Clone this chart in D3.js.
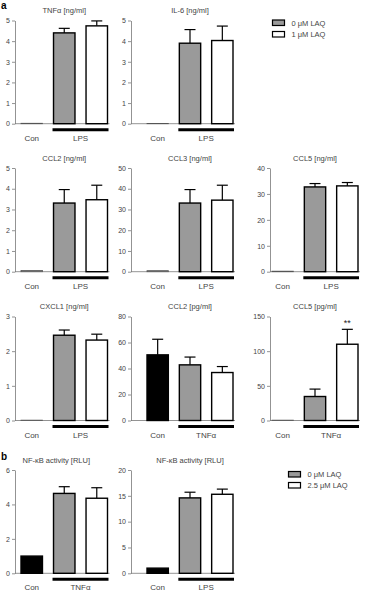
<!DOCTYPE html>
<html>
<head>
<meta charset="utf-8">
<script src="https://cdn.jsdelivr.net/npm/d3@7"></script>
<style>
  body { margin: 0; background: #fff; }
  svg { display: block; font-family: "Liberation Sans", Arial, sans-serif; }
</style>
</head>
<body>
<svg id="chart" width="366" height="592"></svg>
<script>
// bar groups in each panel
const groups = ["Con", "LAQ0", "LAQ1"]

// panel titles, in reading order
const titles = [
  "TNFα [ng/ml]", "IL-6 [ng/ml]",
  "CCL2 [ng/ml]", "CCL3 [ng/ml]", "CCL5 [ng/ml]",
  "CXCL1 [ng/ml]", "CCL2 [pg/ml]", "CCL5 [pg/ml]",
  "NF-κB activity [RLU]", "NF-κB activity [RLU]"
]

// stimulus shown under the two treated bars
const stimuli = ["LPS", "LPS", "LPS", "LPS", "LPS", "LPS", "TNFα", "TNFα", "TNFα", "LPS"]

// mean values: Con, 0 µM LAQ, 1 (or 2.5) µM LAQ
const means = [
  [0.02, 4.40, 4.74],
  [0.01, 3.90, 4.03],
  [0.06, 3.31, 3.47],
  [0.5, 33.1, 34.5],
  [0.2, 32.7, 33.1],
  [0.01, 2.46, 2.32],
  [50.5, 42.8, 36.9],
  [0.5, 34.6, 110],
  [1.0, 4.64, 4.36],
  [1.0, 14.6, 15.3]
]

// upper error (SEM)
const errors = [
  [0, 0.22, 0.24],
  [0, 0.66, 0.70],
  [0, 0.65, 0.70],
  [0, 6.5, 7.2],
  [0, 1.3, 1.3],
  [0, 0.15, 0.17],
  [12.0, 6.0, 4.6],
  [0, 10.7, 21.5],
  [0, 0.39, 0.61],
  [0, 1.1, 1.0]
]

// y axis tick labels
const ticks = [
  [0, 1, 2, 3, 4, 5],
  [0, 1, 2, 3, 4, 5],
  [0, 1, 2, 3, 4, 5],
  [0, 10, 20, 30, 40, 50],
  [0, 10, 20, 30, 40],
  [0, 1, 2, 3],
  [0, 20, 40, 60, 80],
  [0, 50, 100, 150],
  [0, 2, 4, 6],
  [0, 5, 10, 15, 20]
]

// which Con bars are black
const conBlack = [false, false, false, false, false, false, true, false, true, true]

const legendTop = ["0 μM LAQ", "1 μM LAQ"]
const legendBottom = ["0 μM LAQ", "2.5 μM LAQ"]

// layout
const rows = [
  { top: 20.5, zero: 123.7 },
  { top: 168, zero: 271.7 },
  { top: 316.5, zero: 420.5 },
  { top: 470, zero: 573.3 }
]
const cols = [
  { axis: 15, band: [21, 107.5] },
  { axis: 131, band: [147, 233] },
  { axis: 270, band: [272, 358] }
]
const cells = [[0, 0], [0, 1], [1, 0], [1, 1], [1, 2], [2, 0], [2, 1], [2, 2], [3, 0], [3, 1]]

const grayFill = "#9a9a9a"
const textCol = "#444"
const axisCol = "#777"

const svg = d3.select("#chart")

cells.forEach(([r, c], i) => {
  const row = rows[r]
  const col = cols[c]
  const g = svg.append("g")

  const x = d3.scaleBand()
              .domain(groups)
              .range(col.band)
              .paddingInner(0.34)
              .paddingOuter(0)

  const ymax = ticks[i][ticks[i].length - 1]
  const y = d3.scaleLinear()
              .domain([0, ymax])
              .range([row.zero, row.top])

  // y axis
  const yAxis = g.append("g")
                 .attr("transform", `translate(${col.axis},0)`)
                 .call(d3.axisLeft(y)
                         .tickValues(ticks[i])
                         .tickFormat(d3.format("d"))
                         .tickSize(3)
                         .tickSizeOuter(0)
                         .tickPadding(2))
  yAxis.select(".domain").attr("stroke", axisCol).attr("stroke-width", 0.8)
  yAxis.selectAll(".tick line").attr("stroke", axisCol).attr("stroke-width", 0.8)
  yAxis.selectAll(".tick text")
       .attr("fill", textCol)
       .attr("font-size", "7px")
       .attr("font-family", "Liberation Sans, Arial, sans-serif")

  // baseline
  g.append("line")
   .attr("x1", col.axis)
   .attr("x2", col.band[1] + 2)
   .attr("y1", row.zero)
   .attr("y2", row.zero)
   .attr("stroke", axisCol)
   .attr("stroke-width", 0.8)

  // error bars (upward only)
  groups.forEach((k, j) => {
    if (errors[i][j] <= 0) return
    const cx = x(k) + x.bandwidth() / 2
    const yt = y(means[i][j] + errors[i][j])
    g.append("line")
     .attr("x1", cx).attr("x2", cx)
     .attr("y1", y(means[i][j])).attr("y2", yt)
     .attr("stroke", "#000").attr("stroke-width", 1.2)
    g.append("line")
     .attr("x1", cx - 5.5).attr("x2", cx + 5.5)
     .attr("y1", yt).attr("y2", yt)
     .attr("stroke", "#000").attr("stroke-width", 1.2)
  })

  // bars
  g.selectAll(".bar")
   .data(groups.map((k, j) => ({ k, j, v: means[i][j] })))
   .enter()
   .append("rect")
   .attr("class", "bar")
   .attr("x", d => x(d.k))
   .attr("width", x.bandwidth())
   .attr("y", d => y(d.v))
   .attr("height", d => row.zero - y(d.v))
   .attr("fill", d => d.j === 0 ? (conBlack[i] ? "#000" : grayFill) : d.j === 1 ? grayFill : "#fff")
   .attr("stroke", d => d.j === 0 && !conBlack[i] ? "#555" : "#000")
   .attr("stroke-width", d => d.j === 0 && !conBlack[i] ? 0.8 : 1.4)

  // stimulus bar and labels
  g.append("line")
   .attr("x1", x("LAQ0") - 1)
   .attr("x2", x("LAQ1") + x.bandwidth() + 1)
   .attr("y1", row.zero + 6)
   .attr("y2", row.zero + 6)
   .attr("stroke", "#000")
   .attr("stroke-width", 3)

  g.append("text")
   .text("Con")
   .attr("x", x("Con") + x.bandwidth() / 2)
   .attr("y", row.zero + 17)
   .attr("text-anchor", "middle")
   .attr("font-size", "8px")
   .attr("fill", textCol)

  g.append("text")
   .text(stimuli[i])
   .attr("x", (x("LAQ0") + x("LAQ1") + x.bandwidth()) / 2)
   .attr("y", row.zero + 17)
   .attr("text-anchor", "middle")
   .attr("font-size", "8px")
   .attr("fill", textCol)

  // title
  g.append("text")
   .text(titles[i])
   .attr("x", (col.band[0] + col.band[1]) / 2 + (r === 3 && c === 0 ? -8 : 0))
   .attr("y", row.top - 7.5)
   .attr("text-anchor", "middle")
   .attr("font-size", "7.5px")
   .attr("fill", textCol)

  // significance mark
  if (i === 7) {
    g.append("text")
     .text("**")
     .attr("x", x("LAQ1") + x.bandwidth() / 2)
     .attr("y", y(means[i][2] + errors[i][2]) - 3)
     .attr("text-anchor", "middle")
     .attr("font-size", "9px")
     .attr("fill", "#222")
  }
})

// panel letters
svg.append("text").text("a").attr("x", 1).attr("y", 9)
   .attr("font-size", "10px").attr("font-weight", "bold")
svg.append("text").text("b").attr("x", 1).attr("y", 460)
   .attr("font-size", "10px").attr("font-weight", "bold")

// legends
function legend(labels, lx, ly, step) {
  const lg = svg.append("g").attr("transform", `translate(${lx},${ly})`)
  labels.forEach((t, j) => {
    lg.append("rect")
      .attr("x", 0).attr("y", j * step)
      .attr("width", 12).attr("height", 5.5)
      .attr("fill", j === 0 ? grayFill : "#fff")
      .attr("stroke", "#000").attr("stroke-width", 1.2)
    lg.append("text")
      .text(t)
      .attr("x", 19).attr("y", j * step + 3)
      .attr("dominant-baseline", "central")
      .attr("font-size", "7.5px")
      .attr("fill", textCol)
  })
}
legend(legendTop, 272.5, 20, 11.5)
legend(legendBottom, 288.5, 471.5, 11)
</script>
</body>
</html>
